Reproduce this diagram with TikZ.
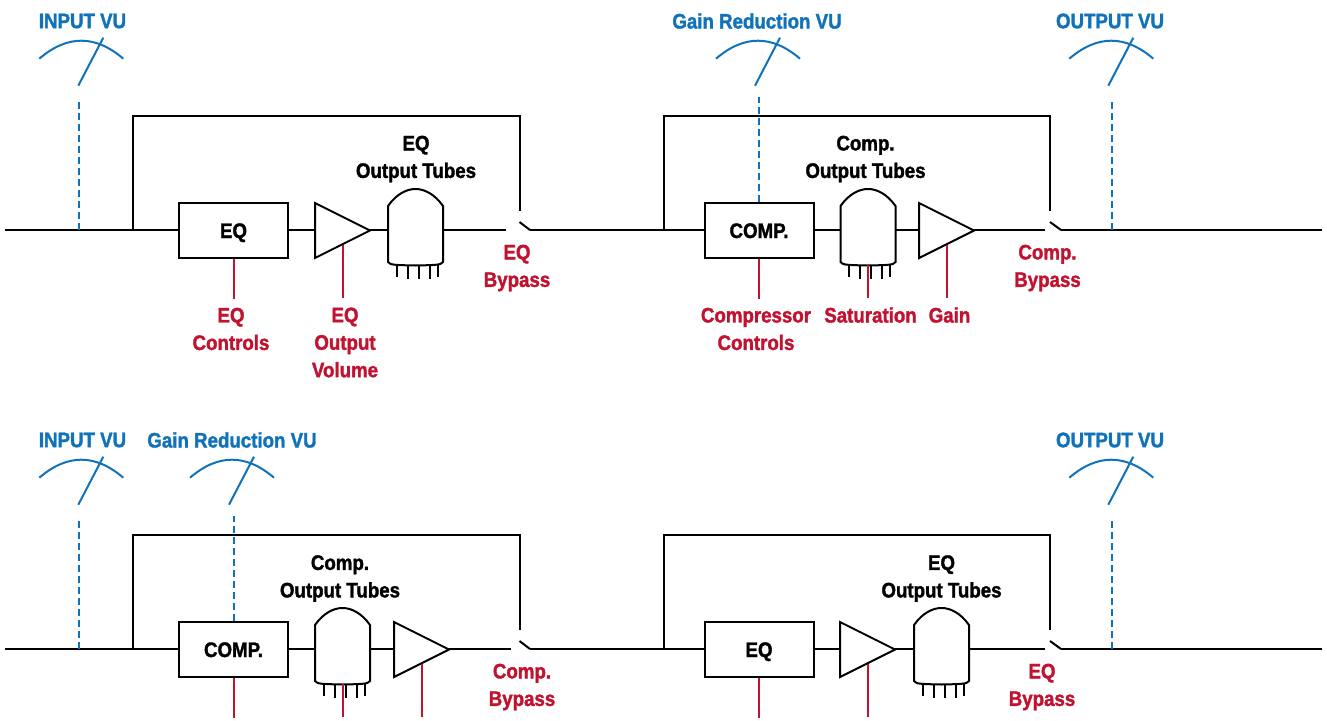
\documentclass[tikz,border=0pt]{standalone}
\usepackage{fontspec}
\setmainfont[FakeStretch=0.89,BoldFeatures={FakeBold=1.6}]{Liberation Sans}
\usetikzlibrary{shapes.geometric}
\definecolor{vuBlue}{HTML}{1072B8}
\definecolor{ctlRed}{HTML}{C1122F}
\tikzset{
  wire/.style={draw=black, line width=2pt},
  unitbox/.style={wire, fill=white, minimum width=109pt, minimum height=55pt, inner sep=0pt,
    text height=15pt, text depth=0pt, font=\fontsize{21}{27.5}\selectfont\bfseries},
  amp/.style={wire, fill=white, isosceles triangle, isosceles triangle stretches,
    minimum width=55pt, minimum height=55pt, inner sep=0pt, anchor=lower side},
  ctl/.style={draw=ctlRed, line width=2pt},
  sense/.style={draw=vuBlue, line width=2pt, dash pattern=on 7pt off 4pt},
  lbl/.style={align=center, inner sep=0pt, font=\fontsize{21}{27.5}\selectfont\bfseries},
  tubelbl/.style={lbl, text=black},
  ctllbl/.style={lbl, text=ctlRed},
  vulbl/.style={lbl, text=vuBlue},
  meter/.pic={
    \draw[draw=vuBlue, line width=2pt] (-39,-27) .. controls (-11,-51) and (17,-51) .. (45,-27);
    \draw[draw=vuBlue, line width=2pt] (0,0) -- (25,-48);
  },
  tube/.pic={
    \coordinate (-w) at (-27.5,0);
    \coordinate (-e) at (27.5,0);
    \coordinate (-s) at (0,35);
    \draw[wire, fill=white] (-27.5,-24) .. controls (-19,-36) and (-9,-41) .. (0,-41)
      .. controls (9,-41) and (19,-36) .. (27.5,-24) -- (27.5,32)
      .. controls (25,35) and (22,35) .. (0,35.5) .. controls (-22,35) and (-25,35) .. (-27.5,32) -- cycle;
    \draw[wire] (-19,35) -- (-19,47) (-8,35) -- (-8,49) (3,35) -- (3,49) (14,35) -- (14,49) (22,35) -- (22,47);
  },
}
\begin{document}
\begin{tikzpicture}[x=1pt, y=-1pt]
  \useasboundingbox (0,0) rectangle (1327,720);

  % upper chain
  \coordinate (inA) at (5,230);
  \coordinate (outA) at (1322,230);
  \coordinate (vuinA) at (78.5,230);
  \coordinate (vuoutA) at (1112,230);
  \coordinate (tapA) at (133,230);
  \coordinate (topA) at (520,116);
  \coordinate (swAl) at (506,230);
  \coordinate (swAt) at (520,211);
  \coordinate (swAa) at (519.5,222);
  \coordinate (swAr) at (530,230);
  \coordinate (tapB) at (664,230);
  \coordinate (topB) at (1050,116);
  \coordinate (swBl) at (1045,230);
  \coordinate (swBt) at (1050,211);
  \coordinate (swBa) at (1050,222);
  \coordinate (swBr) at (1061,230);

  \draw[wire] (inA) -- (swAl) (swAr) -- (swBl) (swBr) -- (outA);
  \draw[wire] (swAa) -- (swAr);
  \draw[wire] (swBa) -- (swBr);
  \draw[wire] (tapA) |- (topA) -- (swAt);
  \draw[wire] (tapB) |- (topB) -- (swBt);

  \node[unitbox] (eqA) at (233.5,230.5) {EQ};
  \node[amp] (ampA) at (314,230.5) {};
  \pic (tubeA) at (415.5,230) {tube};
  \node[unitbox] (compA) at (759,230.5) {COMP.};
  \pic (tubeB) at (868,230) {tube};
  \node[amp] (ampB) at (918,230.5) {};

  \pic at (78.3,85.7) {meter};
  \pic at (755,85.7) {meter};
  \pic at (1108.3,85.7) {meter};
  \draw[sense] (vuinA) -- ++(0,-130);
  \draw[sense] (compA.north) -- ++(0,-105);
  \draw[sense] (vuoutA) -- ++(0,-130);

  \draw[ctl] (eqA.south) -- ++(0,40);
  \draw[ctl] (ampA.right side) -- ++(0,53);
  \draw[ctl] (compA.south) -- ++(0,40);
  \draw[ctl] (tubeB-s) -- ++(0,33);
  \draw[ctl] (ampB.right side) -- ++(0,53);

  \node[vulbl] (lblinA) at (82.5,21) {INPUT VU};
  \node[vulbl] (lblgrA) at (757,21) {Gain Reduction VU};
  \node[vulbl] (lbloutA) at (1110,21) {OUTPUT VU};
  \node[tubelbl] (lbltubeA) at (416,159) {EQ\\Output Tubes};
  \node[tubelbl] (lbltubeB) at (865.5,159) {Comp.\\Output Tubes};
  \node[ctllbl] (lblswA) at (517,268) {EQ\\Bypass};
  \node[ctllbl] (lblswB) at (1047.5,268) {Comp.\\Bypass};
  \node[ctllbl] (lbleqA) at (231,329) {EQ\\Controls};
  \node[ctllbl] (lblampA) at (345,342.5) {EQ\\Output\\Volume};
  \node[ctllbl] (lblcompA) at (756,329) {Compressor\\Controls};
  \node[ctllbl] (lblsat) at (870.5,315) {Saturation};
  \node[ctllbl] (lblgain) at (949.5,315) {Gain};

  % lower chain
  \coordinate (inC) at (5,649);
  \coordinate (outC) at (1322,649);
  \coordinate (vuinC) at (78.5,649);
  \coordinate (vuoutC) at (1112,649);
  \coordinate (tapC) at (133,649);
  \coordinate (topC) at (520,535);
  \coordinate (swCl) at (511,649);
  \coordinate (swCt) at (520,630);
  \coordinate (swCa) at (519.5,641);
  \coordinate (swCr) at (530,649);
  \coordinate (tapD) at (664,649);
  \coordinate (topD) at (1050,535);
  \coordinate (swDl) at (1045,649);
  \coordinate (swDt) at (1050,630);
  \coordinate (swDa) at (1050,641);
  \coordinate (swDr) at (1061,649);

  \draw[wire] (inC) -- (swCl) (swCr) -- (swDl) (swDr) -- (outC);
  \draw[wire] (swCa) -- (swCr);
  \draw[wire] (swDa) -- (swDr);
  \draw[wire] (tapC) |- (topC) -- (swCt);
  \draw[wire] (tapD) |- (topD) -- (swDt);

  \node[unitbox] (compC) at (233.5,649.5) {COMP.};
  \pic (tubeC) at (342.5,649) {tube};
  \node[amp] (ampC) at (393,649.5) {};
  \node[unitbox] (eqD) at (759,649.5) {EQ};
  \node[amp] (ampD) at (839,649.5) {};
  \pic (tubeD) at (941.5,649) {tube};

  \pic at (78.3,504.7) {meter};
  \pic at (229,504.7) {meter};
  \pic at (1108.3,504.7) {meter};
  \draw[sense] (vuinC) -- ++(0,-130);
  \draw[sense] (compC.north) -- ++(0,-105);
  \draw[sense] (vuoutC) -- ++(0,-130);

  \draw[ctl] (compC.south) -- ++(0,40);
  \draw[ctl] (tubeC-s) -- ++(0,33);
  \draw[ctl] (ampC.right side) -- ++(0,53);
  \draw[ctl] (eqD.south) -- ++(0,40);
  \draw[ctl] (ampD.right side) -- ++(0,53);

  \node[vulbl] (lblinC) at (82.5,440) {INPUT VU};
  \node[vulbl] (lblgrC) at (232,440) {Gain Reduction VU};
  \node[vulbl] (lbloutC) at (1110,440) {OUTPUT VU};
  \node[tubelbl] (lbltubeC) at (340,578.5) {Comp.\\Output Tubes};
  \node[tubelbl] (lbltubeD) at (941.5,578.5) {EQ\\Output Tubes};
  \node[ctllbl] (lblswC) at (522,687) {Comp.\\Bypass};
  \node[ctllbl] (lblswD) at (1042,687) {EQ\\Bypass};
\end{tikzpicture}
\end{document}
